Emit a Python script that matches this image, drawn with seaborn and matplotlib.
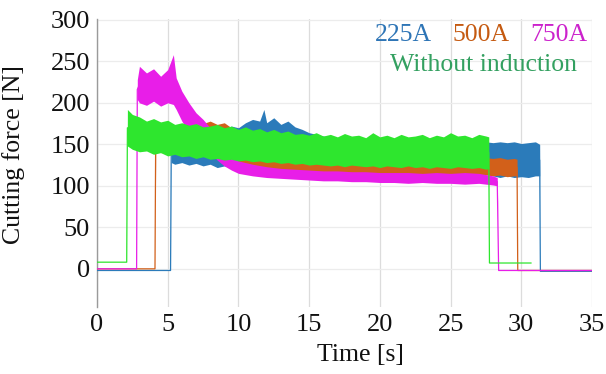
import matplotlib
matplotlib.use("Agg")
import matplotlib.pyplot as plt
import pandas as pd
import seaborn as sns

# Cutting force envelopes (lower / upper edge of the noisy signal) per induction current
t_225 = [0, 5.2, 5.25, 5.5, 6, 6.5, 7, 7.5, 8, 8.5, 9, 9.5, 10, 10.5, 11, 11.5, 11.8, 12, 12.5, 13,
         13.5, 14, 14.5, 15, 15.5, 16, 17, 18, 19, 20, 21, 22, 23, 24, 25, 26, 27, 27.5, 28, 28.5,
         29, 29.5, 30, 30.5, 31, 31.3, 31.35, 35]
hi_225 = [-2, -2, 162, 160, 164, 160, 162, 158, 160, 164, 168, 172, 170, 176, 180, 178, 192, 176, 182, 174,
          178, 171, 168, 164, 162, 160, 157, 156, 155, 154, 154, 153, 154, 153, 154, 153, 154, 153, 152, 153,
          152, 153, 151, 152, 153, 150, -3, -3]
lo_225 = [-2, -2, 128, 126, 128, 125, 127, 124, 126, 122, 124, 122, 124, 126, 127, 128, 130, 129, 130, 128,
          128, 127, 126, 125, 125, 124, 123, 123, 122, 122, 121, 121, 121, 120, 120, 120, 119, 116, 112, 110,
          112, 110, 111, 110, 112, 112, -3, -3]

t_500 = [0, 4.1, 4.15, 4.5, 5, 5.5, 6, 6.5, 7, 7.5, 8, 8.5, 9, 9.5, 10, 11, 12, 13, 14, 15,
         16, 17, 18, 19, 20, 21, 22, 23, 24, 25, 26, 27, 27.5, 28, 28.5, 29, 29.5, 29.7, 29.75, 35]
hi_500 = [0, 0, 170, 168, 172, 170, 174, 172, 177, 175, 178, 174, 176, 170, 166, 158, 150, 146, 144, 142,
          141, 140, 139, 139, 138, 138, 137, 137, 136, 136, 135, 135, 134, 133, 134, 132, 133, 132, -2, -2]
lo_500 = [0, 0, 142, 140, 140, 142, 142, 144, 145, 146, 146, 142, 138, 134, 128, 124, 122, 120, 118, 116,
          114, 113, 112, 112, 111, 111, 110, 110, 110, 110, 110, 110, 113, 112, 113, 111, 112, 112, -2, -2]

t_750 = [0, 2.8, 2.85, 3, 3.5, 4, 4.5, 5, 5.4, 5.6, 6, 6.5, 7, 7.5, 8, 8.5, 9, 9.5, 10, 11,
         12, 13, 14, 15, 16, 17, 18, 19, 20, 21, 22, 23, 24, 25, 26, 27, 28, 28.3, 28.4, 35]
hi_750 = [0, 0, 228, 244, 236, 241, 232, 240, 258, 230, 214, 200, 188, 180, 170, 156, 145, 136, 130, 126,
          123, 121, 120, 119, 118, 118, 117, 117, 116, 116, 116, 115, 116, 115, 116, 115, 112, 110, -2, -2]
lo_750 = [0, 0, 204, 200, 197, 202, 196, 200, 198, 192, 178, 164, 154, 148, 140, 131, 124, 119, 115, 112,
          110, 109, 108, 107, 106, 106, 105, 105, 104, 104, 103, 104, 103, 103, 102, 103, 101, 100, -2, -2]

t_none = [0, 2.1, 2.15, 2.5, 3, 3.5, 4, 4.5, 5, 5.5, 6, 6.5, 7, 7.5, 8, 8.5, 9, 9.5, 10, 10.5,
          11, 11.5, 12, 12.5, 13, 13.5, 14, 14.5, 15, 15.5, 16, 16.5, 17, 17.5, 18, 18.5, 19, 19.5, 20, 20.5,
          21, 21.5, 22, 22.5, 23, 23.5, 24, 24.5, 25, 25.5, 26, 26.5, 27, 27.5, 27.7, 27.75, 30.7]
hi_none = [8, 8, 192, 186, 183, 178, 181, 177, 179, 174, 176, 173, 175, 171, 172, 174, 170, 172, 168, 171,
           167, 169, 165, 168, 164, 166, 162, 163, 161, 164, 160, 162, 159, 163, 160, 161, 158, 164, 159, 161,
           158, 162, 159, 160, 162, 158, 161, 159, 164, 160, 161, 158, 162, 160, 159, 7, 7]
lo_none = [8, 8, 148, 144, 141, 142, 138, 140, 136, 138, 135, 136, 133, 135, 132, 133, 131, 132, 130, 131,
           129, 130, 128, 129, 127, 128, 126, 127, 125, 126, 125, 124, 125, 123, 125, 124, 123, 124, 122, 124,
           123, 122, 124, 122, 123, 121, 123, 122, 121, 123, 122, 121, 122, 120, 121, 7, 7]

series = ["225A", "500A", "750A", "Without induction"]
line_colors = ["#2b7bba", "#d2601a", "#e81ee8", "#2ee62e"]
text_colors = ["#2e75b6", "#c55a11", "#cc22cc", "#33a060"]
x_ticks = [0, 5, 10, 15, 20, 25, 30, 35]
y_ticks = [0, 50, 100, 150, 200, 250, 300]

# long-form table: every time stamp carries its lower and upper envelope value
rows = []
for name, t, lo, hi in zip(series,
                           [t_225, t_500, t_750, t_none],
                           [lo_225, lo_500, lo_750, lo_none],
                           [hi_225, hi_500, hi_750, hi_none]):
    for ti, a, b in zip(t, lo, hi):
        rows.append((name, ti, a))
        rows.append((name, ti, b))
df = pd.DataFrame(rows, columns=["series", "time", "force"])

sns.set_theme(style="white")
plt.rcParams["font.family"] = ["Liberation Serif", "DejaVu Serif"]

fig = plt.figure(figsize=(6.06, 3.74), dpi=100)
ax = fig.add_axes([97 / 606, 1 - 307 / 374, (592 - 97) / 606, (307 - 19) / 374])

sns.lineplot(data=df, x="time", y="force", hue="series", hue_order=series,
             palette=line_colors, estimator="mean", errorbar=("pi", 100),
             err_kws={"alpha": 1.0, "linewidth": 0}, linewidth=0.9,
             legend=False, ax=ax)

# stack each trace (band + centre line) above the previous one
for i, (ln, band) in enumerate(zip(ax.lines, ax.collections)):
    band.set_zorder(3 + 2 * i)
    ln.set_zorder(4 + 2 * i)

ax.set_xlim(0, 35)
ax.set_ylim(-46, 301)
ax.set_xticks(x_ticks)
ax.set_yticks(y_ticks)
ax.tick_params(axis="both", length=0, labelsize=19, colors="#111111")
ax.tick_params(axis="y", pad=5)
ax.tick_params(axis="x", pad=5)

ax.set_axisbelow(True)
ax.xaxis.grid(True, color="#dcdcdc", linewidth=0.9)
ax.yaxis.grid(True, color="#ececec", linewidth=0.9)

for side in ["top", "right", "bottom"]:
    ax.spines[side].set_visible(False)
ax.spines["left"].set_color("#9a9a9a")
ax.spines["left"].set_linewidth(1.0)

ax.set_xlabel("Time [s]", fontsize=18.5, color="#111111")
ax.xaxis.set_label_coords(0.533, -0.13)
ax.set_ylabel("Cutting force [N]", fontsize=18.5, color="#111111")
ax.yaxis.set_label_coords(-0.145, 0.53)

# colour-coded legend written as plain text
legend_pos = [(375, 35), (453, 35), (530, 35), (390, 65)]
for name, col, (px, py) in zip(series, text_colors, legend_pos):
    fig.text(px / 606, 1 - py / 374, name, color=col, fontsize=18.5,
             ha="left", va="center")

fig.savefig("out.png", dpi=100)
